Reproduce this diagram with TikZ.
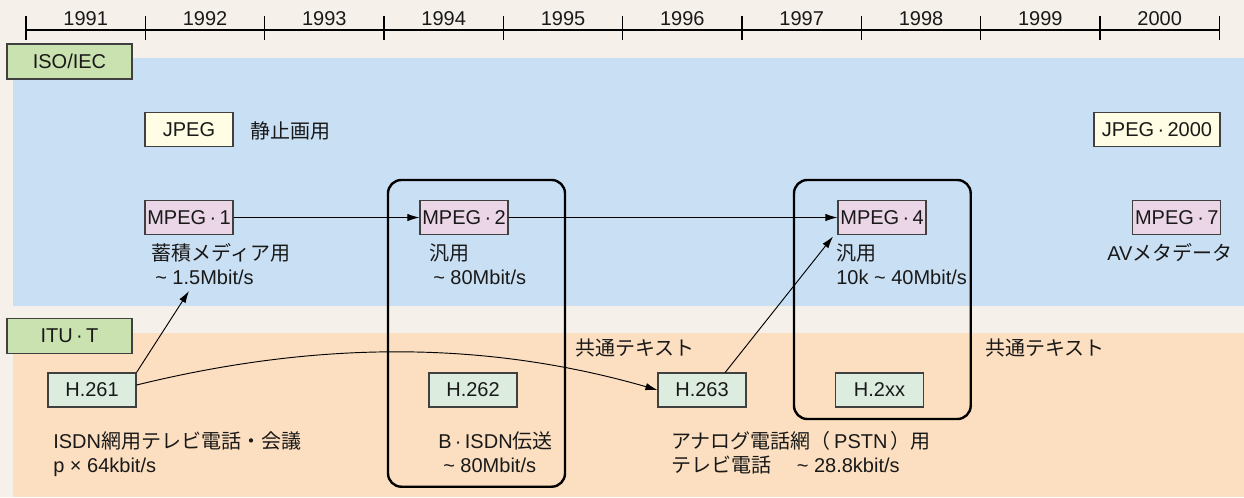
\documentclass[tikz,border=0pt]{standalone}
\usepackage{fontspec}
\setmainfont{Liberation Sans}
\newfontfamily\jp{Noto Sans CJK JP}
\usetikzlibrary{arrows.meta,calc}
\definecolor{bgbeige}{HTML}{F5F1EA}
\definecolor{bandblue}{HTML}{C9DFF3}
\definecolor{bandpeach}{HTML}{FCDFC0}
\definecolor{labgreen}{HTML}{C9E2B0}
\definecolor{jpegyel}{HTML}{FFFDE3}
\definecolor{mpegpink}{HTML}{EAD6E7}
\definecolor{hmint}{HTML}{DCEDE0}
\newcommand{\md}{\,·\,}
\tikzset{
  txt/.style={font=\fontsize{15}{18}\selectfont, inner sep=0pt, anchor=base west, text=black!90},
  yr/.style={font=\fontsize{15}{18}\selectfont, inner sep=0pt, anchor=base, text=black!90},
  boxbase/.style={draw=black!75, line width=0.8pt, font=\fontsize{15}{18}\selectfont, inner sep=0pt,
     minimum height=25.5pt, text=black!90},
  orgbox/.style={boxbase, fill=labgreen, minimum width=93.75pt, minimum height=26.25pt},
  jpegbox/.style={boxbase, fill=jpegyel, minimum width=66pt},
  mpegbox/.style={boxbase, fill=mpegpink, minimum width=66pt},
  hbox/.style={boxbase, fill=hmint, minimum width=66pt},
  group/.style={draw=black, line width=1.8pt, rounded corners=10pt},
  arr/.style={draw=black, line width=0.7pt, -{Latex[length=9pt,width=5.5pt]}},
  tick/.style={draw=black, line width=0.8pt},
}
\begin{document}
\begin{tikzpicture}[x=0.75pt,y=-0.75pt]
\useasboundingbox (0,0) rectangle (1244,497);
\fill[bgbeige] (0,0) rectangle (1244,497);
\fill[bandblue] (13,58) rectangle (1244,306);
\fill[bandpeach] (13,333) rectangle (1244,497);

% timeline
\draw[tick] (26,30) -- (1219.3,30);
\foreach \i in {0,...,10} {
  \draw[tick] ({26+119.33*\i},16) -- ({26+119.33*\i},40);
}
\foreach \y [count=\i from 0] in {1991,1992,1993,1994,1995,1996,1997,1998,1999,2000} {
  \node[yr] (yr\y) at ({85.7+119.33*\i},25) {\y};
}

% organisation labels
\node[orgbox] (iso) at (69.5,61.5) {ISO/IEC};
\node[orgbox] (itu) at (69.5,336) {ITU\md T};

% group frames
\draw[group] (388,180) rectangle (565,486.7);
\draw[group] (794,180) rectangle (970.7,419);

% JPEG
\node[jpegbox] (jpeg) at (189,129.5) {JPEG};
\node[txt] (jpegtxt) at (250.5,138) {\jp 静止画用};
\node[jpegbox, minimum width=94.5pt] (jpeg2k) at (1157,129.5) {JPEG\md 2000};

% MPEG
\node[mpegbox] (m1) at (189,217.5) {MPEG\md 1};
\node[mpegbox] (m2) at (464,217.5) {MPEG\md 2};
\node[mpegbox] (m4) at (882,217.5) {MPEG\md 4};
\node[mpegbox] (m7) at (1176.7,217.5) {MPEG\md 7};

\node[txt] (m1a) at (151.5,260) {\jp 蓄積メディア用};
\node[txt] (m1b) at (155,284) {\textasciitilde\ 1.5Mbit/s};
\node[txt] (m2a) at (429,260) {\jp 汎用};
\node[txt] (m2b) at (433,284) {\textasciitilde\ 80Mbit/s};
\node[txt] (m4a) at (836,260) {\jp 汎用};
\node[txt] (m4b) at (836,284) {10k \textasciitilde\ 40Mbit/s};
\node[txt] (m7a) at (1107,260) {AV{\jp メタデータ}};

% H series
\node[hbox] (h261) at (92,390) {H.261};
\node[hbox] (h262) at (473,390) {H.262};
\node[hbox] (h263) at (702,390) {H.263};
\node[hbox] (h2xx) at (879.5,390) {H.2xx};

\node[txt] (c1) at (575,355) {\jp 共通テキスト};
\node[txt] (c2) at (985,355) {\jp 共通テキスト};

\node[txt] (h261a) at (53,448) {ISDN{\jp 網用テレビ電話・会議}};
\node[txt] (h261b) at (53,472) {p × 64kbit/s};
\node[txt] (h262a) at (438,448) {B\md ISDN{\jp 伝送}};
\node[txt] (h262b) at (443,472) {\textasciitilde\ 80Mbit/s};
\node[txt] (h263a) at (671,448) {{\jp アナログ電話網（}\,PSTN\,{\jp ）用}};
\node[txt] (h263b) at (671,472) {{\jp テレビ電話　}\ \textasciitilde\ 28.8kbit/s};

% connectors
\coordinate (m1tip) at (189,291);
\coordinate (m4tip) at (833,236.5);
\draw[arr] (m1) -- (m2);
\draw[arr] (m2) -- (m4);
\draw[arr] (h261.north east) -- (m1tip);
\draw[arr] ($(h263.north west)!0.76!(h263.north east)$) -- (m4tip);
\draw[arr] ($(h261.east)+(0,-5)$) .. controls (300,345) and (470,336) .. (h263.west);
\end{tikzpicture}
\end{document}
